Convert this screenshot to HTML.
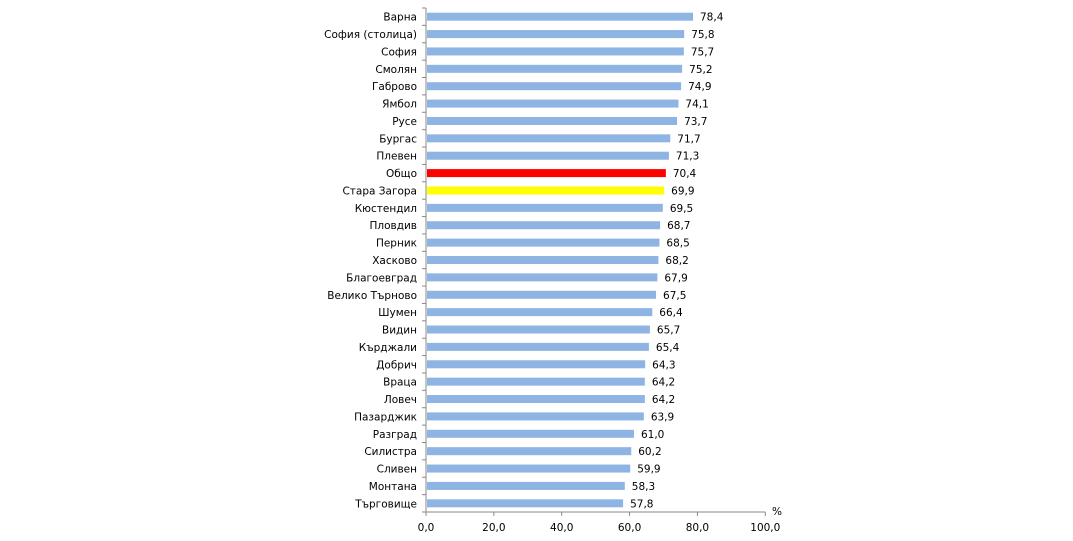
<!DOCTYPE html>
<html><head><meta charset="utf-8"><style>
html,body{margin:0;padding:0;background:#fff;}
svg{display:block;font-family:"DejaVu Sans","Liberation Sans",sans-serif;font-size:10.5px;fill:#000;}
</style></head><body>
<svg id="c" width="1073" height="541" xmlns="http://www.w3.org/2000/svg"></svg>
<script>
(function(){
var d=[["Варна",78.4],["София (столица)",75.8],["София",75.7],["Смолян",75.2],["Габрово",74.9],["Ямбол",74.1],["Русе",73.7],["Бургас",71.7],["Плевен",71.3],["Общо",70.4],["Стара Загора",69.9],["Кюстендил",69.5],["Пловдив",68.7],["Перник",68.5],["Хасково",68.2],["Благоевград",67.9],["Велико Търново",67.5],["Шумен",66.4],["Видин",65.7],["Кърджали",65.4],["Добрич",64.3],["Враца",64.2],["Ловеч",64.2],["Пазарджик",63.9],["Разград",61.0],["Силистра",60.2],["Сливен",59.9],["Монтана",58.3],["Търговище",57.8]];
var x0=426,s=3.393,yt=8,yb=512,h=(yb-yt)/d.length,o='';
d.forEach(function(r,i){
 var y=yt+h*i+h/2,w=r[1]*s,c=r[0]=="Общо"?"#ff0000":(r[0]=="Стара Загора"?"#ffff00":"#8eb4e3");
 o+='<rect x="'+(x0+1)+'" y="'+(y-4)+'" width="'+w+'" height="8" fill="'+c+'"/>';
 o+='<text x="417" y="'+(y+4)+'" text-anchor="end">'+r[0]+'</text>';
 o+='<text x="'+(x0+w+8)+'" y="'+(y+4)+'">'+r[1].toFixed(1).replace('.',',')+'</text>';
});
for(var i=0;i<=d.length;i++){var y=yt+h*i;o+='<line x1="'+(x0-4)+'" x2="'+x0+'" y1="'+y+'" y2="'+y+'" stroke="#888"/>';}
o+='<line x1="'+x0+'" x2="'+x0+'" y1="'+yt+'" y2="'+yb+'" stroke="#888"/>';
o+='<line x1="'+x0+'" x2="'+(x0+100*s)+'" y1="'+yb+'" y2="'+yb+'" stroke="#888"/>';
for(var v=0;v<=100;v+=20){var x=x0+v*s;o+='<line x1="'+x+'" x2="'+x+'" y1="'+yb+'" y2="'+(yb+4)+'" stroke="#888"/>';
 o+='<text x="'+x+'" y="531" text-anchor="middle">'+v.toFixed(1).replace('.',',')+'</text>';}
o+='<text x="772" y="515">%</text>';
document.getElementById('c').innerHTML=o;
})();
</script>
</body></html>
